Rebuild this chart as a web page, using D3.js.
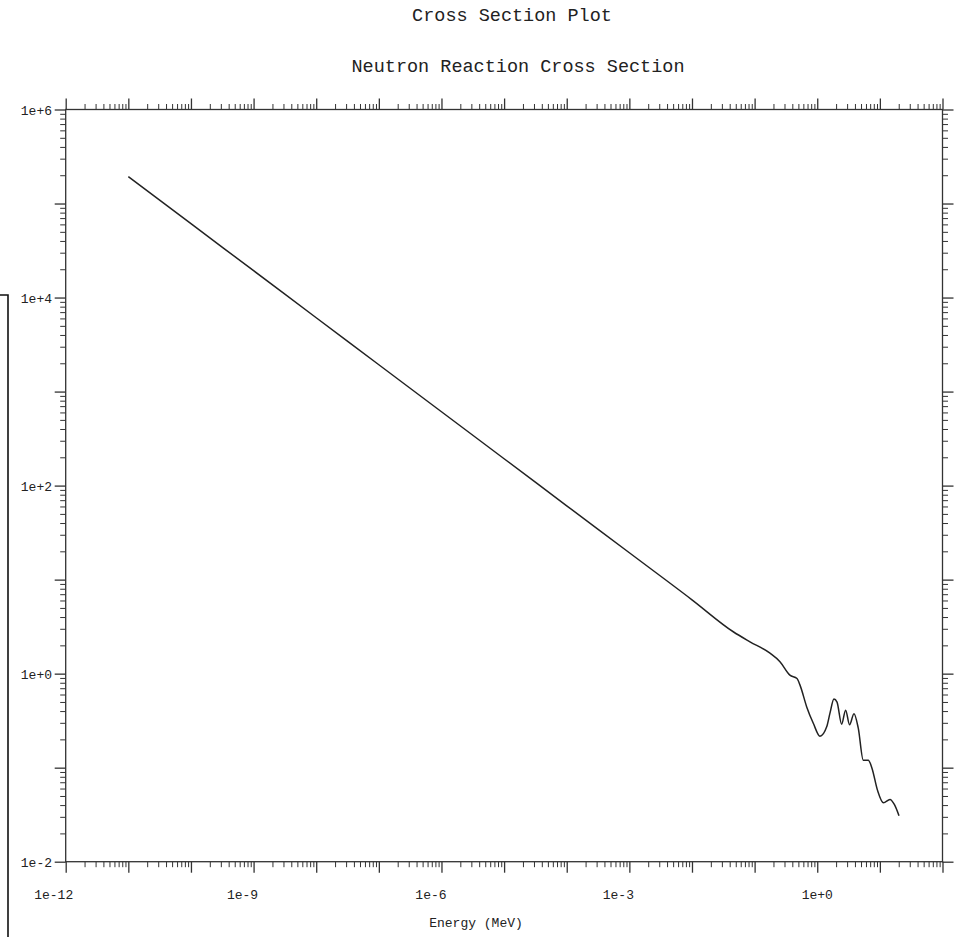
<!DOCTYPE html>
<html>
<head>
<meta charset="utf-8">
<script src="https://cdn.jsdelivr.net/npm/d3@7"></script>
<style>
  html, body { margin: 0; padding: 0; background: #fff; }
  svg { display: block; }
  text { font-family: "Liberation Mono", "Courier New", monospace; fill: #222; }
</style>
</head>
<body>
<svg id="chart" width="959" height="937"></svg>
<script>
// ---- data ----
const energyMeV = [1e-11, 1e-10, 1e-9, 1e-8, 1e-7, 1e-6, 1e-5, 1e-4, 1e-3, 1e-2, 0.0456,
  0.0843, 0.176, 0.254, 0.366, 0.475, 0.531, 0.679, 0.865, 1.106, 1.415, 1.597, 1.85, 2.07,
  2.45, 2.84, 3.28, 3.86, 4.52, 5.43, 6.53, 7.48, 9.15, 11.4, 14.5, 17.1, 20.2];
const crossSection = [1.93e5, 6.1e4, 1.93e4, 6.1e3, 1.93e3, 610, 193, 61, 19.3, 6.1, 2.79,
  2.18, 1.65, 1.34, 0.964, 0.889, 0.755, 0.443, 0.297, 0.216, 0.272, 0.380, 0.536, 0.498,
  0.290, 0.409, 0.286, 0.375, 0.263, 0.120, 0.120, 0.0988, 0.0577, 0.0423, 0.0459, 0.0404, 0.0308];
const xTickLabels = ["1e-12", "1e-9", "1e-6", "1e-3", "1e+0"];
const xLabelValues = [1e-12, 1e-9, 1e-6, 1e-3, 1e0];
const yTickLabels = ["1e+6", "1e+4", "1e+2", "1e+0", "1e-2"];
const yLabelValues = [1e6, 1e4, 1e2, 1e0, 1e-2];
const xDomain = [1e-12, 1e2];
const yDomain = [1e-2, 1e6];
const titleMain = "Cross Section Plot";
const titleSub = "Neutron Reaction Cross Section";
const xAxisTitle = "Energy (MeV)";

// ---- layout ----
const L = 65.7, R = 942.5, T = 109.5, B = 861.7;
const svg = d3.select("#chart");
const x = d3.scaleLog().domain(xDomain).range([L, R]);
const y = d3.scaleLog().domain(yDomain).range([B, T]);

function decades(lo, hi) { const a = []; for (let e = Math.round(Math.log10(lo)); e <= Math.round(Math.log10(hi)); e++) a.push(Math.pow(10, e)); return a; }
function minors(lo, hi) { const a = []; decades(lo, hi).forEach(d => { if (d < hi) for (let k = 2; k <= 9; k++) a.push(d * k); }); return a; }

const xMaj = decades(...xDomain), xMin = minors(...xDomain);
const yMaj = decades(...yDomain), yMin = minors(...yDomain);
const MAJ = 11, MIN = 5.5;

function styleAxis(w) {
  return g => {
    g.select(".domain").remove();
    g.selectAll("text").remove();
    g.selectAll("line").attr("stroke", "#333").attr("stroke-width", w);
  };
}
// bottom
svg.append("g").attr("transform", `translate(0,${B})`).call(d3.axisBottom(x).tickValues(xMaj).tickSize(MAJ)).call(styleAxis(1.3));
svg.append("g").attr("transform", `translate(0,${B})`).call(d3.axisBottom(x).tickValues(xMin).tickSize(MIN)).call(styleAxis(1));
// top
svg.append("g").attr("transform", `translate(0,${T})`).call(d3.axisTop(x).tickValues(xMaj).tickSize(MAJ)).call(styleAxis(1.3));
svg.append("g").attr("transform", `translate(0,${T})`).call(d3.axisTop(x).tickValues(xMin).tickSize(MIN)).call(styleAxis(1));
// left
svg.append("g").attr("transform", `translate(${L},0)`).call(d3.axisLeft(y).tickValues(yMaj).tickSize(MAJ)).call(styleAxis(1.3));
svg.append("g").attr("transform", `translate(${L},0)`).call(d3.axisLeft(y).tickValues(yMin).tickSize(MIN)).call(styleAxis(1));
// right
svg.append("g").attr("transform", `translate(${R},0)`).call(d3.axisRight(y).tickValues(yMaj).tickSize(MAJ)).call(styleAxis(1.3));
svg.append("g").attr("transform", `translate(${R},0)`).call(d3.axisRight(y).tickValues(yMin).tickSize(MIN)).call(styleAxis(1));

// frame
svg.append("rect").attr("x", L).attr("y", T).attr("width", R - L).attr("height", B - T)
  .attr("fill", "none").attr("stroke", "#333").attr("stroke-width", 1.3);

// tick labels
const xLabelShift = [-12, -11, -10.5, -11, 0];
svg.append("g").selectAll("text").data(xTickLabels).join("text")
  .attr("x", (d, i) => x(xLabelValues[i]) + xLabelShift[i])
  .attr("y", 899).attr("text-anchor", "middle").attr("font-size", 13).text(d => d);
svg.append("g").selectAll("text").data(yTickLabels).join("text")
  .attr("x", 52).attr("y", (d, i) => y(yLabelValues[i]) + 5)
  .attr("text-anchor", "end").attr("font-size", 13).text(d => d);

// titles
svg.append("text").attr("x", 512).attr("y", 21).attr("text-anchor", "middle").attr("font-size", 18.5).text(titleMain);
svg.append("text").attr("x", 518).attr("y", 72).attr("text-anchor", "middle").attr("font-size", 18.5).text(titleSub);
svg.append("text").attr("x", 476).attr("y", 927).attr("text-anchor", "middle").attr("font-size", 13).text(xAxisTitle);

// left bracket line (as in reference)
svg.append("path").attr("d", "M0,295 H8 V937").attr("fill", "none").attr("stroke", "#111").attr("stroke-width", 1.6);

// curve
const pts = energyMeV.map((e, i) => [e, crossSection[i]]);
const line = d3.line().x(d => x(d[0])).y(d => y(d[1])).curve(d3.curveMonotoneX);
svg.append("path").datum(pts).attr("d", line).attr("fill", "none").attr("stroke", "#222").attr("stroke-width", 1.5);
</script>
</body>
</html>
